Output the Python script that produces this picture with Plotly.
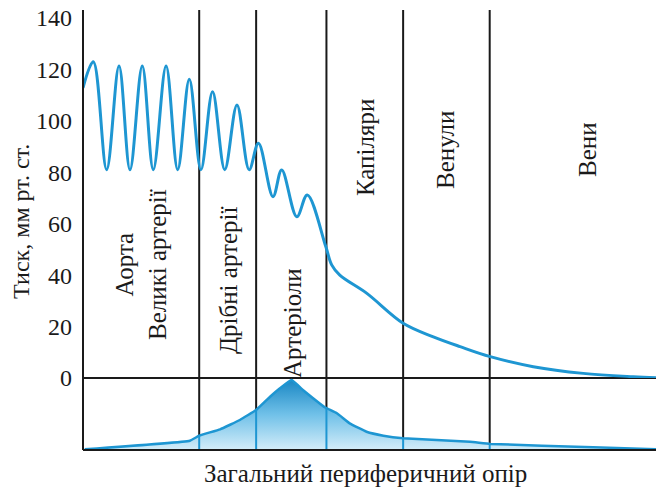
import numpy as np
import plotly.graph_objects as go

# ---- data ----
# top panel: pressure (mm Hg) along the vascular bed (x in arbitrary units 0..100)
pressure_x = [0, 1.77, 4.07, 6.2, 8.09, 10.2, 12.1, 14.3, 16.3, 18.3, 20.3, 22.3, 24.4,
              26.5, 28.6, 30.2, 32.7, 34.2, 36.8, 38.6, 41.8, 42.8, 44.2, 48.8, 55.1,
              60.3, 64.9, 70.1, 77.5, 86.1, 94.7, 100]
pressure_y = [112.8, 123, 81, 121.3, 81, 121.3, 81, 121.3, 81, 116.2, 81, 111.3, 81,
              106.2, 81, 91.3, 70.5, 80.9, 62.7, 71.2, 51, 44, 40, 33, 21.3,
              16, 12.2, 8.3, 4.4, 1.8, 0.5, 0]

# bottom panel: total peripheral resistance (relative units 0..100)
resist_x = [0.3, 18.4, 20.0, 23.6, 27.0, 29.8, 32.2, 33.9, 35.9, 37.9, 39.6, 41.6, 43.7,
            45.9, 48.8, 51.7, 55.1, 66.6, 70.1, 87.8, 99.3]
resist_y = [1, 12.9, 19.9, 28.7, 41.7, 55.6, 74, 85.7, 97.2, 83, 71.8, 59.3, 51,
            37, 25.4, 19.9, 16.3, 11.5, 8.5, 3.75, 1]

# boundaries between vessel sections
boundaries = [20.0, 29.8, 41.9, 55.1, 70.0]

y_ticks = [0, 20, 40, 60, 80, 100, 120, 140]

sections = ["Аорта<br>Великі артерії", "Дрібні артерії", "Артеріоли",
            "Капіляри", "Венули", "Вени"]
y_title = "Тиск, мм рт. ст."
x_title = "Загальний периферичний опір"

# ---- layout helpers ----
OFF = 8  # page body margin
W, H = 664 - OFF, 492 - OFF
L, R, T, B = 83 - OFF, 0, 10 - OFF, 42
split = 72 / 440.0
FONT = "Liberation Serif, Times New Roman, serif"
BLUE = "#1e96d2"
BLACK = "#1a1a1a"


def px_x(px):
    return (px - OFF - L) / (W - L - R)


def px_y(py):
    return (H - B - (py - OFF)) / (H - T - B)


fig = go.Figure()

# resistance area with vertical gradient
fig.add_trace(go.Scatter(
    x=resist_x, y=resist_y, mode="lines", yaxis="y2",
    line=dict(color=BLUE, width=2.5, shape="spline", smoothing=0.3),
    fill="tozeroy",
    fillgradient=dict(type="vertical",
                      colorscale=[[0, "#d4edf9"], [0.5, "#6fc0e8"], [1, "#1584c2"]],
                      start=0, stop=100),
    hoverinfo="skip", showlegend=False))

# blue boundary segments inside the filled area
for b in boundaries:
    top = float(np.interp(b, resist_x, resist_y))
    fig.add_trace(go.Scatter(
        x=[b, b], y=[0, top], mode="lines", yaxis="y2",
        line=dict(color=BLUE, width=2), hoverinfo="skip", showlegend=False))

# pressure curve
fig.add_trace(go.Scatter(
    x=pressure_x, y=pressure_y, mode="lines",
    line=dict(color=BLUE, width=3, shape="spline", smoothing=1.0),
    hoverinfo="skip", showlegend=False))

shapes = []
for b in boundaries:
    shapes.append(dict(type="line", xref="x", yref="paper", x0=b, x1=b, y0=0, y1=1,
                       line=dict(color=BLACK, width=2), layer="below"))
# zero line (separator) and baseline, left axis
shapes.append(dict(type="line", xref="paper", yref="paper", x0=0, x1=1, y0=split, y1=split,
                   line=dict(color=BLACK, width=2), layer="below"))
shapes.append(dict(type="line", xref="paper", yref="paper", x0=0, x1=1, y0=0, y1=0,
                   line=dict(color=BLACK, width=2), layer="above"))
shapes.append(dict(type="line", xref="paper", yref="paper", x0=0, x1=0, y0=0, y1=1,
                   line=dict(color=BLACK, width=2), layer="above"))

label_pos = [(141, 265), (228, 280), (292, 323), (366, 148), (445, 150), (587, 150)]
annotations = []
for txt, (ax_, ay_) in zip(sections, label_pos):
    annotations.append(dict(text=txt, x=px_x(ax_), y=px_y(ay_), xref="paper", yref="paper",
                            showarrow=False, textangle=-90, xanchor="center", yanchor="middle",
                            font=dict(family=FONT, size=25, color=BLACK)))
annotations.append(dict(text=y_title, x=px_x(21), y=px_y(222), xref="paper", yref="paper",
                        showarrow=False, textangle=-90, xanchor="center", yanchor="middle",
                        borderpad=0,
                        font=dict(family=FONT, size=24, color=BLACK)))
annotations.append(dict(text=x_title, x=px_x(365), y=px_y(474), xref="paper", yref="paper",
                        showarrow=False, xanchor="center", yanchor="middle",
                        font=dict(family=FONT, size=25, color=BLACK)))

fig.update_layout(
    width=W, height=H,
    margin=dict(l=L, r=R, t=T, b=B, autoexpand=False),
    paper_bgcolor="white", plot_bgcolor="white",
    xaxis=dict(range=[0, 100], showgrid=False, zeroline=False, showticklabels=False,
               showline=False, fixedrange=True, automargin=False),
    yaxis=dict(domain=[split, 1], range=[0, 143.1], tickvals=y_ticks,
               ticktext=[str(v) for v in y_ticks], showgrid=False, zeroline=False,
               showline=False, ticks="", ticklabelstandoff=10, automargin=False,
               ticklabeloverflow="allow",
               tickfont=dict(family=FONT, size=24, color=BLACK)),
    yaxis2=dict(domain=[0, split], range=[0, 100], showgrid=False, zeroline=False,
                showticklabels=False, showline=False, automargin=False),
    shapes=shapes,
    annotations=annotations,
)

fig.write_html("out.html")
